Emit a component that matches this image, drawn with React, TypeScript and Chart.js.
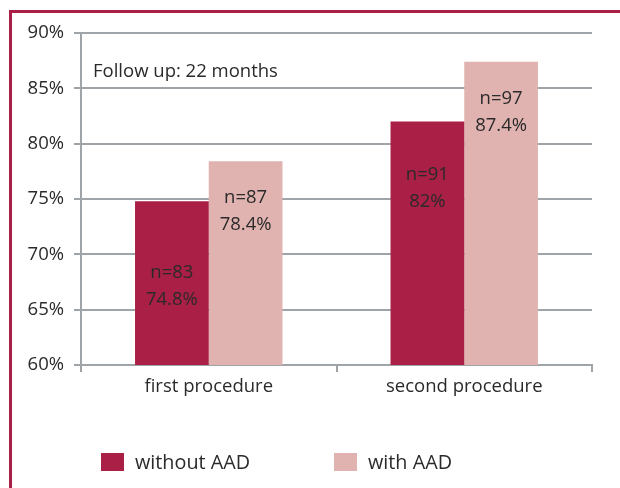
import React, { useEffect, useRef } from "react";
import { Chart, registerables } from "chart.js";

Chart.register(...registerables);

const categories = ["first procedure", "second procedure"];
const seriesNames = ["without AAD", "with AAD"];
const withoutAAD = [74.8, 82];
const withAAD = [78.4, 87.4];
const nWithout = ["n=83", "n=91"];
const nWith = ["n=87", "n=97"];
const pctWithout = ["74.8%", "82%"];
const pctWith = ["78.4%", "87.4%"];
// vertical anchor (in % units) for the centre of each in-bar label
const anchorWithout = [67.1, 76.0];
const anchorWith = [73.9, 82.8];
const yTicks = [60, 65, 70, 75, 80, 85, 90];
const note = "Follow up: 22 months";

const DARK = "#a91f45";
const LIGHT = "#e0b3b0";
const GRID = "#9ea4a8";
const TEXT = "#2a2a2a";
const FONT = "'Open Sans', 'Noto Sans', sans-serif";
const FS = 18.5;

const labelPlugin = {
  id: "barLabels",
  afterDatasetsDraw(chart: any) {
    const ctx = chart.ctx;
    const y = chart.scales.y;
    const groups = [
      { n: nWithout, p: pctWithout, a: anchorWithout },
      { n: nWith, p: pctWith, a: anchorWith },
    ];
    ctx.save();
    ctx.fillStyle = TEXT;
    ctx.font = `${FS}px ${FONT}`;
    ctx.textAlign = "center";
    ctx.textBaseline = "middle";
    groups.forEach((g, di) => {
      const meta = chart.getDatasetMeta(di);
      meta.data.forEach((bar: any, i: number) => {
        const cy = y.getPixelForValue(g.a[i]);
        ctx.fillText(g.n[i], bar.x, cy - 13.5);
        ctx.fillText(g.p[i], bar.x, cy + 13.5);
      });
    });
    ctx.textAlign = "left";
    ctx.fillText(note, chart.chartArea.left + 12, y.getPixelForValue(86.5));
    ctx.restore();
  },
};

export default function App() {
  const ref = useRef<HTMLCanvasElement>(null);
  useEffect(() => {
    document.body.style.margin = "0";
    const chart = new Chart(ref.current!, {
      type: "bar",
      data: {
        labels: categories,
        datasets: [
          { label: seriesNames[0], data: withoutAAD, backgroundColor: DARK, borderWidth: 0 },
          { label: seriesNames[1], data: withAAD, backgroundColor: LIGHT, borderWidth: 0 },
        ],
      },
      options: {
        animation: false,
        responsive: false,
        maintainAspectRatio: false,
        layout: { padding: { top: 33, right: 28, left: 0, bottom: 0 } },
        plugins: { legend: { display: false }, tooltip: { enabled: false } },
        datasets: { bar: { barPercentage: 1, categoryPercentage: 0.577 } },
        scales: {
          x: {
            afterFit(s: any) { s.height = 123; },
            grid: { offset: true, drawOnChartArea: false, color: GRID, lineWidth: 2, tickLength: 7 },
            border: { color: GRID, width: 2 },
            ticks: { color: TEXT, font: { family: FONT, size: FS }, padding: 4 },
          },
          y: {
            min: 60,
            max: 90,
            afterFit(s: any) { s.width = 81; },
            afterBuildTicks(s: any) { s.ticks = yTicks.map((v) => ({ value: v })); },
            grid: { color: GRID, lineWidth: 2, tickLength: 7 },
            border: { color: GRID, width: 2 },
            ticks: {
              color: TEXT,
              font: { family: FONT, size: FS },
              padding: 10,
              callback: (v: any) => `${v}%`,
            },
          },
        },
      },
      plugins: [labelPlugin],
    });
    return () => chart.destroy();
  }, []);

  const legendItem = (color: string, text: string, left: number) => (
    <div style={{ position: "absolute", left, top: 453, display: "flex", alignItems: "center", height: 18 }}>
      <div style={{ width: 23, height: 18, background: color, flex: "none" }} />
      <span style={{ marginLeft: 11, font: `19.8px ${FONT}`, color: TEXT, lineHeight: "18px", whiteSpace: "nowrap" }}>{text}</span>
    </div>
  );

  return (
    <div style={{ position: "relative", width: 620, height: 488, overflow: "hidden", background: "#fff" }}>
      <div style={{ position: "absolute", left: 9, top: 10, width: 620, height: 488, borderTop: `3px solid ${DARK}`, borderLeft: `3px solid ${DARK}` }} />
      <canvas ref={ref} width={620} height={488} style={{ position: "absolute", left: 0, top: 0 }} />
      {legendItem(DARK, seriesNames[0], 101)}
      {legendItem(LIGHT, seriesNames[1], 334)}
    </div>
  );
}
